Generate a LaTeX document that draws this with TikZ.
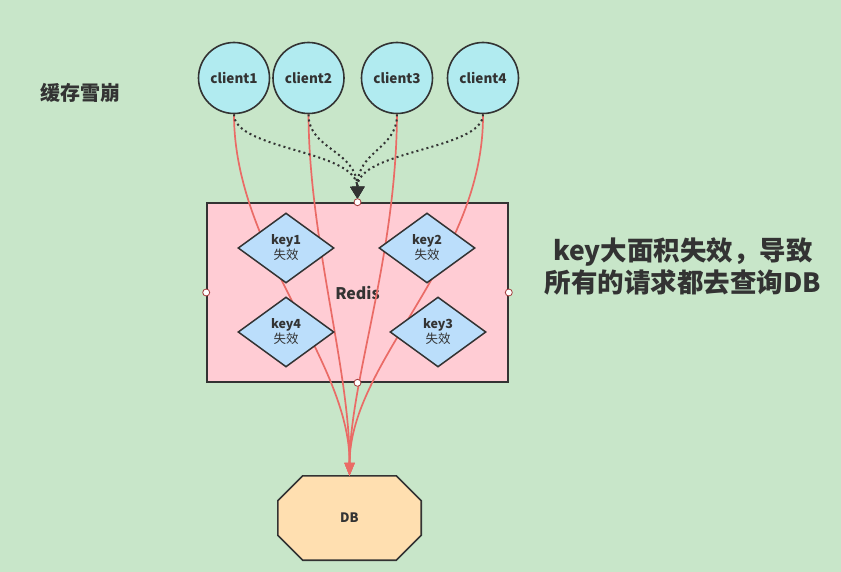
\documentclass[tikz,border=0pt]{standalone}
\usepackage{fontspec}
\setmainfont{Noto Sans CJK SC}
\usetikzlibrary{arrows.meta,shapes.geometric}
\definecolor{bgc}{HTML}{C8E6C9}
\definecolor{cfill}{HTML}{B1EBF0}
\definecolor{rfill}{HTML}{FFCCD4}
\definecolor{dfill}{HTML}{BBDEFB}
\definecolor{dbfill}{HTML}{FFDFB0}
\definecolor{redl}{HTML}{EA6B66}
\definecolor{ink}{HTML}{333333}
\definecolor{hdl}{HTML}{A33A3A}
\tikzset{
  client/.style={circle,draw=ink,line width=1.6pt,fill=cfill,minimum size=71pt,inner sep=0pt,
    font=\fontsize{13.5}{16}\selectfont\bfseries,text=ink},
  keybox/.style={diamond,draw=ink,line width=1.5pt,fill=dfill,minimum width=96pt,minimum height=70pt,
    inner sep=0pt,align=center,font=\fontsize{12.5}{15}\selectfont,text=ink},
  flow/.style={draw=redl,line width=1.7pt,-{Triangle[width=10pt,length=13pt]},fill=none},
  dots/.style={draw=ink,line width=2pt,dash pattern=on 2pt off 3.2pt,-{Triangle[width=14pt,length=12pt,fill=ink]}},
  handle/.style={circle,draw=hdl,fill=white,line width=0.8pt,minimum size=7pt,inner sep=0pt},
}
\begin{document}
\begin{tikzpicture}[x=1pt,y=-1pt]
\path[use as bounding box,fill=bgc] (0,0) rectangle (841,572);

\node[draw=ink,line width=1.6pt,fill=rfill,minimum width=301pt,minimum height=179pt,inner sep=0pt,
  font=\fontsize{16}{18}\selectfont\bfseries,text=ink] (redis) at (357.5,292.5) {Redis};

\node[minimum width=143pt,minimum height=84pt,inner sep=0pt] (db) at (349.5,518) {};
\draw[draw=ink,line width=1.6pt,fill=dbfill]
  ([xshift=25pt]db.north west) -- ([xshift=-25pt]db.north east) -- ([yshift=-25pt]db.north east)
  -- ([yshift=25pt]db.south east) -- ([xshift=-25pt]db.south east) -- ([xshift=25pt]db.south west)
  -- ([yshift=25pt]db.south west) -- ([yshift=-25pt]db.north west) -- cycle;
\node[font=\fontsize{13}{15}\selectfont\bfseries,text=ink] at (db.center) {DB};

\node[client] (c1) at (234,78) {client1};
\node[client] (c2) at (308.5,78) {client2};
\node[client] (c3) at (397,78) {client3};
\node[client] (c4) at (483,78) {client4};

% red flows to DB
\draw[flow] (c1.south) .. controls (234,250) and (350,360) .. (db.north);
\draw[flow] (c2.south) .. controls (309,240) and (350,370) .. (db.north);
\draw[flow] (c3.south) .. controls (396,260) and (350,380) .. (db.north);
\draw[flow] (c4.south) .. controls (484,260) and (350,360) .. (db.north);

% dotted requests to Redis
\draw[dots,shorten >=3.5pt] (c1.south) .. controls (234,150) and (357,150) .. (redis.north);
\draw[dots,shorten >=3.5pt] (c2.south) .. controls (308.5,150) and (357,150) .. (redis.north);
\draw[dots,shorten >=3.5pt] (c3.south) .. controls (397,150) and (357,150) .. (redis.north);
\draw[dots,shorten >=3.5pt] (c4.south) .. controls (483,150) and (357,150) .. (redis.north);

\node[keybox] (k1) at (286,248) {{\bfseries key1}\\失效};
\node[keybox] (k2) at (427,248) {{\bfseries key2}\\失效};
\node[keybox] (k4) at (286,332) {{\bfseries key4}\\失效};
\node[keybox] (k3) at (438,332) {{\bfseries key3}\\失效};

\node[handle] (h1) at (redis.north) {};
\node[handle] (h2) at (redis.south) {};
\node[handle] (h3) at (redis.west) {};
\node[handle] (h4) at (redis.east) {};

\node[font=\fontsize{20}{24}\selectfont\bfseries,text=ink] (title) at (80,93) {缓存雪崩};
\node[font=\fontsize{26.5}{32}\selectfont\bfseries,text=ink,align=center] (note) at (683,266)
  {key大面积失效，导致\\所有的请求都去查询DB};
\end{tikzpicture}
\end{document}
